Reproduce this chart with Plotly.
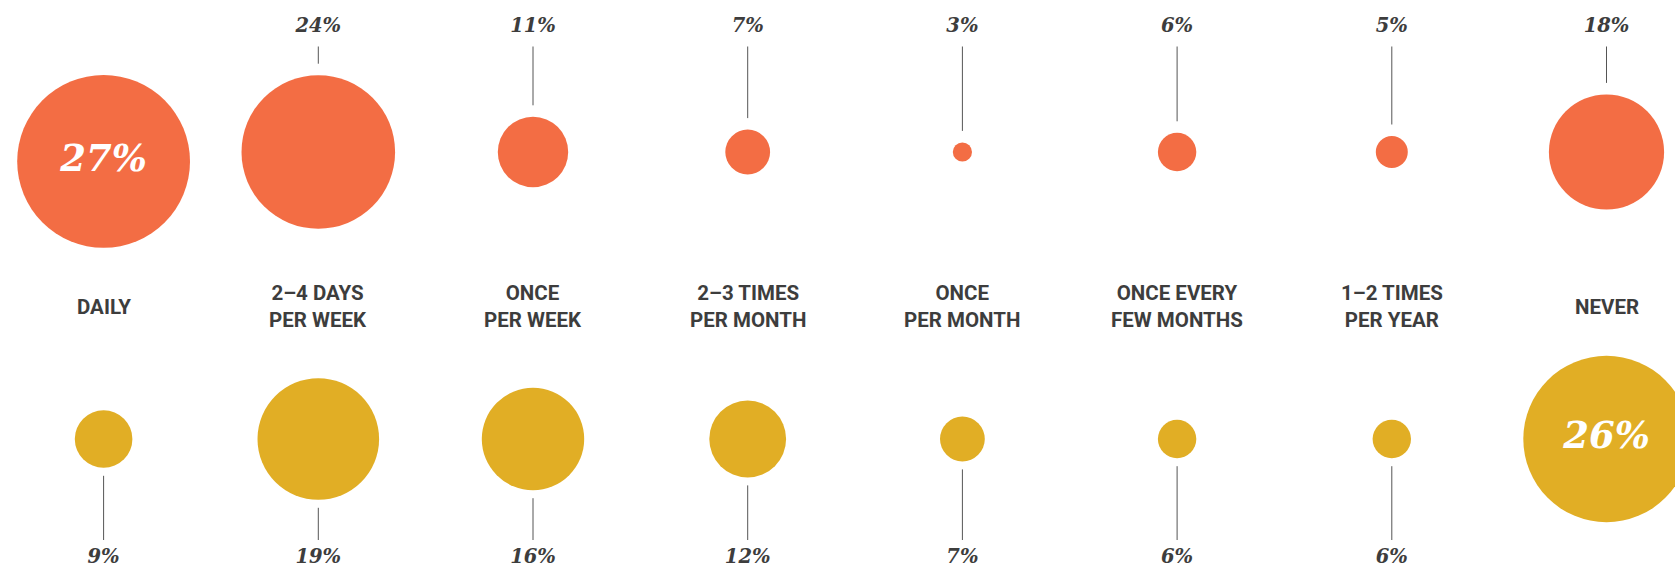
import plotly.graph_objects as go

# ---- data ----
categories = ["DAILY", "2–4 DAYS<br>PER WEEK", "ONCE<br>PER WEEK", "2–3 TIMES<br>PER MONTH",
              "ONCE<br>PER MONTH", "ONCE EVERY<br>FEW MONTHS", "1–2 TIMES<br>PER YEAR", "NEVER"]
top_values = [27, 24, 11, 7, 3, 6, 5, 18]
bottom_values = [9, 19, 16, 12, 7, 6, 6, 26]

# ---- styles ----
ORANGE = "#F36D44"
GOLD = "#E1AE25"
TEXT = "#3d3d3d"
LINE = "#555555"
W, H = 1675, 570
DIAM_PER_PCT = 6.4          # marker diameter (px) per percentage point
TOP_ROW_Y, TOP_LIMIT = 152, 75
BOT_ROW_Y = 439
TOP_LABEL_Y, BOT_LABEL_Y, CAT_Y = 27.5, 558, 306.5
LINE_TOP_START, LINE_BOT_END = 46.5, 540
TOP_GAP, BOT_GAP = 11.5, 8

xs = list(range(len(categories)))
rt = [v * DIAM_PER_PCT / 2 for v in top_values]
rb = [v * DIAM_PER_PCT / 2 for v in bottom_values]
yt = [max(TOP_ROW_Y, TOP_LIMIT + r) for r in rt]
yb = [BOT_ROW_Y for _ in bottom_values]
tmax, bmax = max(top_values), max(bottom_values)

fig = go.Figure()

# circles
fig.add_trace(go.Scatter(x=xs, y=yt, mode="markers",
                         marker=dict(size=[v * DIAM_PER_PCT for v in top_values], sizemode="diameter",
                                     color=ORANGE, line=dict(width=0), opacity=1),
                         hoverinfo="skip", showlegend=False))
fig.add_trace(go.Scatter(x=xs, y=yb, mode="markers",
                         marker=dict(size=[v * DIAM_PER_PCT for v in bottom_values], sizemode="diameter",
                                     color=GOLD, line=dict(width=0), opacity=1),
                         hoverinfo="skip", showlegend=False))

# leader lines
lx, ly = [], []
for i, v in enumerate(top_values):
    if v != tmax:
        lx += [i, i, None]
        ly += [LINE_TOP_START, yt[i] - rt[i] - TOP_GAP, None]
for i, v in enumerate(bottom_values):
    if v != bmax:
        lx += [i, i, None]
        ly += [yb[i] + rb[i] + BOT_GAP, LINE_BOT_END, None]
fig.add_trace(go.Scatter(x=lx, y=ly, mode="lines", line=dict(color=LINE, width=1),
                         hoverinfo="skip", showlegend=False))

pct_font = dict(family="DejaVu Serif", size=19.5, color=TEXT, style="italic", weight="bold")
big_font = dict(family="DejaVu Serif", size=37, color="white", style="italic", weight="bold")

# outside percentage labels
ti = [i for i, v in enumerate(top_values) if v != tmax]
fig.add_trace(go.Scatter(x=ti, y=[TOP_LABEL_Y] * len(ti), mode="text",
                         text=[f"{top_values[i]}%" for i in ti], textposition="middle center",
                         textfont=pct_font, cliponaxis=False, hoverinfo="skip", showlegend=False))
bi = [i for i, v in enumerate(bottom_values) if v != bmax]
fig.add_trace(go.Scatter(x=bi, y=[BOT_LABEL_Y] * len(bi), mode="text",
                         text=[f"{bottom_values[i]}%" for i in bi], textposition="middle center",
                         textfont=pct_font, cliponaxis=False, hoverinfo="skip", showlegend=False))

# inside labels for the largest circle of each row
it = top_values.index(tmax)
ib = bottom_values.index(bmax)
fig.add_trace(go.Scatter(x=[it, ib], y=[yt[it], yb[ib]], mode="text",
                         text=[f"{tmax}%", f"{bmax}%"], textposition="middle center",
                         textfont=big_font, cliponaxis=False, hoverinfo="skip", showlegend=False))

# category labels
for i, c in enumerate(categories):
    fig.add_annotation(x=i, y=CAT_Y, text=c, showarrow=False, xanchor="center", yanchor="middle",
                       align="center",
                       font=dict(family="Roboto", size=20.5, color=TEXT, weight="bold"))

col_px = 214.7
first_px = 103.6
x0 = -first_px / col_px
x1 = x0 + W / col_px
fig.update_layout(
    width=W, height=H, margin=dict(l=0, r=0, t=0, b=0),
    paper_bgcolor="white", plot_bgcolor="white",
    xaxis=dict(range=[x0, x1], visible=False, fixedrange=True),
    yaxis=dict(range=[H, 0], visible=False, fixedrange=True),
    hovermode=False,
)
fig.write_html("out.html", config={"displayModeBar": False},
               post_script="document.body.style.margin='0';document.body.style.overflow='hidden';")
